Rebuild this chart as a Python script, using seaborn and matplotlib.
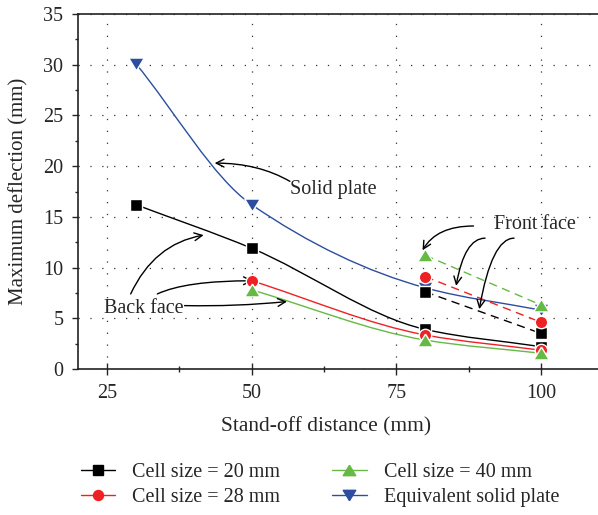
import numpy as np
import matplotlib
matplotlib.use("Agg")
import matplotlib.pyplot as plt
from matplotlib.path import Path
from matplotlib.patches import PathPatch
from matplotlib.lines import Line2D
from matplotlib.markers import MarkerStyle
from matplotlib.ticker import MultipleLocator
import seaborn as sns

# ---- data -------------------------------------------------------------
standoff_solid = [30, 50, 80, 100]
solid_plate = [30.1, 16.2, 8.0, 5.8]

standoff_back_20 = [30, 50, 80, 100]
back_20 = [16.2, 11.9, 3.9, 2.2]

standoff_back = [50, 80, 100]
back_28 = [8.7, 3.35, 1.85]
back_40 = [7.8, 2.85, 1.55]

standoff_front = [80, 100]
front_20 = [7.6, 3.5]
front_28 = [9.1, 4.6]
front_40 = [11.2, 6.3]

series_labels = ["Cell size = 20 mm", "Cell size = 28 mm",
                 "Cell size = 40 mm", "Equivalent solid plate"]
x_ticks = [25, 50, 75, 100]
y_ticks = [0, 5, 10, 15, 20, 25, 30, 35]

# ---- style ------------------------------------------------------------
sns.set_style("ticks")
plt.rcParams["font.family"] = ["Liberation Serif", "DejaVu Serif"]
FS = 14.5

C20, C28, C40, CSOL = "#000000", "#ee2124", "#66b944", "#2c4da0"
TRI_UP = MarkerStyle([(0, 0.83), (-1, -0.83), (1, -0.83), (0, 0.83)])
TRI_DOWN = MarkerStyle([(0, -0.83), (-1, 0.83), (1, 0.83), (0, -0.83)])

fig = plt.figure(figsize=(5.98, 5.15), dpi=100)
ax = fig.add_axes([0.1304, 0.2835, 0.8696, 0.6893])


def smooth_path(xs, ys):
    """Cubic Bezier path through the points with monotone (PCHIP-like) tangents."""
    xs = np.asarray(xs, float)
    ys = np.asarray(ys, float)
    n = len(xs)
    d = np.diff(ys) / np.diff(xs)
    m = np.empty(n)
    m[0], m[-1] = d[0], d[-1]
    for i in range(1, n - 1):
        m[i] = 0.0 if d[i - 1] * d[i] <= 0 else 2.0 / (1.0 / d[i - 1] + 1.0 / d[i])
    verts = [(xs[0], ys[0])]
    codes = [Path.MOVETO]
    for i in range(n - 1):
        h = xs[i + 1] - xs[i]
        verts += [(xs[i] + h / 3, ys[i] + m[i] * h / 3),
                  (xs[i + 1] - h / 3, ys[i + 1] - m[i + 1] * h / 3),
                  (xs[i + 1], ys[i + 1])]
        codes += [Path.CURVE4] * 3
    return Path(verts, codes)


# smooth back-face / solid-plate curves
for xs, ys, c in [(standoff_solid, solid_plate, CSOL),
                  (standoff_back_20, back_20, C20),
                  (standoff_back, back_28, C28),
                  (standoff_back, back_40, C40)]:
    ax.add_patch(PathPatch(smooth_path(xs, ys), facecolor="none",
                           edgecolor=c, lw=1.0, zorder=2))

# dashed front-face lines
for ys, c in [(front_20, C20), (front_28, C28), (front_40, C40)]:
    sns.lineplot(x=standoff_front, y=ys, color=c, lw=1.0,
                 linestyle=(0, (6, 4)), ax=ax, zorder=2)

# markers (drawing order gives the overlaps)
mk = dict(edgecolor="white", linewidth=1.0, ax=ax, legend=False)
sns.scatterplot(x=standoff_solid, y=solid_plate, color=CSOL, marker=TRI_DOWN,
                s=125, zorder=3, **mk)
sns.scatterplot(x=standoff_back_20 + standoff_front, y=back_20 + front_20,
                color=C20, marker="s", s=72, zorder=4, **mk)
sns.scatterplot(x=standoff_back + standoff_front, y=back_28 + front_28,
                color=C28, marker="o", s=80, zorder=5, **mk)
sns.scatterplot(x=standoff_back + standoff_front, y=back_40 + front_40,
                color=C40, marker=TRI_UP, s=125, zorder=6, **mk)

# ---- annotations ------------------------------------------------------
arrow = dict(arrowstyle="->", color="black", lw=1.0, shrinkA=0, shrinkB=0,
             mutation_scale=14)

ax.text(64.05, 17.65, "Solid plate", ha="center", va="center", fontsize=FS)
ax.annotate("", xy=(43.6, 20.3), xytext=(56.6, 18.5),
            arrowprops=dict(connectionstyle="angle3,angleA=150,angleB=0", **arrow))

ax.text(98.9, 14.2, "Front face", ha="center", va="center", fontsize=FS)
ax.annotate("", xy=(79.5, 11.7), xytext=(88.3, 14.1),
            arrowprops=dict(connectionstyle="angle3,angleA=0,angleB=60", **arrow))
ax.annotate("", xy=(85.3, 8.2), xytext=(90.3, 12.9),
            arrowprops=dict(connectionstyle="angle3,angleA=0,angleB=80", **arrow))
ax.annotate("", xy=(89.3, 5.9), xytext=(95.3, 12.9),
            arrowprops=dict(connectionstyle="angle3,angleA=0,angleB=80", **arrow))

ax.text(31.4, 5.95, "Back face", ha="center", va="center", fontsize=FS)
ax.annotate("", xy=(41.7, 13.2), xytext=(29.1, 7.4),
            arrowprops=dict(connectionstyle="angle3,angleA=65,angleB=10", **arrow))
ax.annotate("", xy=(50.2, 8.7), xytext=(33.7, 7.4),
            arrowprops=dict(connectionstyle="angle3,angleA=25,angleB=0", **arrow))
ax.annotate("", xy=(56.1, 6.65), xytext=(38.4, 6.25),
            arrowprops=dict(connectionstyle="arc3,rad=0.03", **arrow))

# ---- axes -------------------------------------------------------------
ax.set_xlim(20, 109.8)
ax.set_ylim(0, 35)
ax.set_xticks(x_ticks)
ax.set_yticks(y_ticks)
ax.xaxis.set_minor_locator(MultipleLocator(12.5))
ax.yaxis.set_minor_locator(MultipleLocator(2.5))
ax.tick_params(axis="x", which="major", direction="inout", length=8, width=1, pad=7)
ax.tick_params(axis="x", which="minor", direction="inout", length=5, width=1)
ax.tick_params(axis="y", which="major", direction="out", length=4.5, width=1, pad=6)
ax.tick_params(axis="y", which="minor", direction="out", length=2.5, width=1)
ax.tick_params(labelsize=FS)
for s in ["left", "bottom", "top"]:
    ax.spines[s].set_linewidth(1.2)
    ax.spines[s].set_color("#222222")
ax.spines["right"].set_visible(False)
ax.grid(True, which="major", color="#333333", linestyle=(0, (1, 8.5)), lw=0.9)
ax.set_axisbelow(True)

ax.set_xlabel("Stand-off distance (mm)", fontsize=15.5)
ax.set_ylabel("Maximum deflection (mm)", fontsize=15)
ax.xaxis.set_label_coords(0.477, -0.135)
ax.yaxis.set_label_coords(-0.096, 0.5)

# ---- legend -----------------------------------------------------------
def handle(c, m, ms):
    return Line2D([], [], color=c, marker=m, markersize=ms, lw=1.0,
                  markeredgecolor=c)

handles = [handle(C20, "s", 6.5), handle(C28, "o", 7.2),
           handle(C40, TRI_UP, 9), handle(CSOL, TRI_DOWN, 9)]
fig.legend(handles, series_labels, loc="center", bbox_to_anchor=(0.535, 0.058),
           ncol=2, frameon=False, fontsize=FS, handlelength=1.7,
           columnspacing=2.6, labelspacing=0.3, handletextpad=0.85)

fig.savefig("out.png", dpi=100)
